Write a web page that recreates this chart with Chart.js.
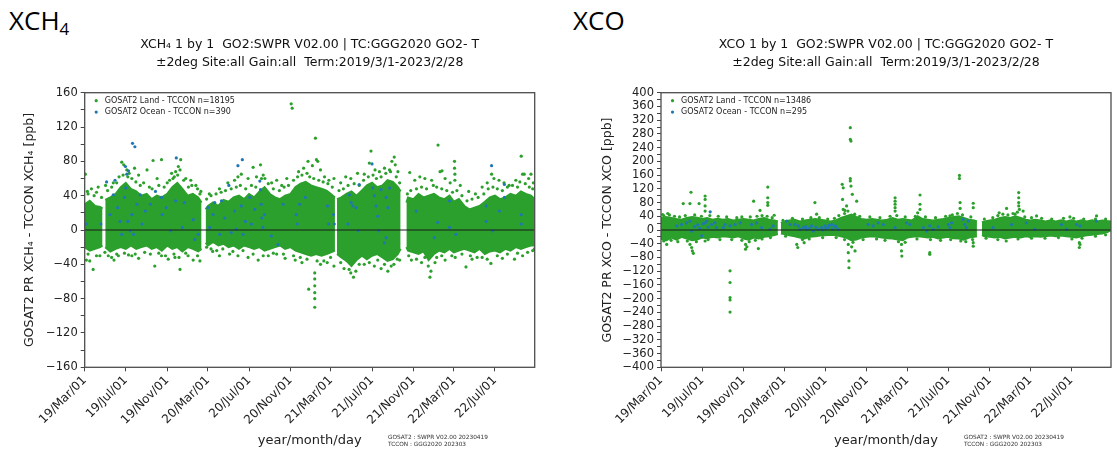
<!DOCTYPE html>
<html>
<head>
<meta charset="utf-8">
<script src="https://cdn.jsdelivr.net/npm/chart.js@4.4.1/dist/chart.umd.min.js"></script>
<style>
  body { margin: 0; background: #fff; width: 1117px; height: 454px; position: relative; overflow: hidden; font-family: 'DejaVu Sans', sans-serif; }
  .big { position: absolute; font-family: 'Open Sans', sans-serif; font-size: 26px; line-height: 26px; color: #000; white-space: nowrap; }
  .big sub { font-size: 17px; vertical-align: -5px; line-height: 0; }
  .note { position: absolute; font-size: 5.8px; line-height: 7px; color: #333; white-space: nowrap; }
  canvas { position: absolute; top: 0; }
</style>
</head>
<body>
<div class="big" style="left:9px;top:7px">XCH<sub>4</sub></div>
<div class="big" style="left:573px;top:7px">XCO</div>
<canvas id="ch4" width="558" height="454" style="left:0"></canvas>
<canvas id="co" width="559" height="454" style="left:558px"></canvas>
<div class="note" style="left:388px;top:434px">GOSAT2 : SWPR V02.00 20230419<br>TCCON : GGG2020 202303</div>
<div class="note" style="left:964px;top:434px">GOSAT2 : SWPR V02.00 20230419<br>TCCON : GGG2020 202303</div>
<script>
// x values are days since 2019-03-01
const tickDays = [0, 122, 245, 366, 488, 611, 731, 853, 976, 1096, 1218];
const tickLabels = ['19/Mar/01', '19/Jul/01', '19/Nov/01', '20/Mar/01', '20/Jul/01', '20/Nov/01',
                    '21/Mar/01', '21/Jul/01', '21/Nov/01', '22/Mar/01', '22/Jul/01'];
const lastDay = 1336;

// dense part of the land cloud: [day, upper edge, lower edge], null = no data
const ch4Band = [[0,30,-20],[15,34,-24],[31,28,-22],[46,27,-20],[53,25,-18],[57,null,null],[61,35,-20],[76,38,-25],
  [92,42,-22],[107,50,-20],[122,55,-22],[137,48,-18],[153,45,-22],[168,40,-20],[184,42,-18],[199,36,-22],
  [214,40,-20],[229,38,-24],[245,42,-18],[260,50,-22],[275,55,-20],[290,48,-25],[306,40,-20],[321,42,-22],
  [337,38,-25],[347,32,-22],[353,null,null],[359,24,-15],[366,28,-18],[381,32,-14],[397,28,-18],[412,35,-16],
  [427,33,-20],[442,38,-18],[458,40,-22],[473,36,-18],[488,42,-20],[503,38,-22],[519,45,-20],[534,50,-24],
  [550,42,-22],[565,38,-20],[580,36,-18],[595,40,-22],[611,42,-20],[626,50,-24],[641,54,-26],[656,56,-28],
  [672,52,-30],[687,50,-28],[703,48,-30],[718,46,-28],[731,42,-26],[743,38,-24],[746,null,null],[749,36,-28],
  [762,38,-32],[777,42,-36],[792,45,-42],[807,40,-35],[823,46,-30],[838,52,-34],[853,55,-30],[868,50,-28],
  [884,52,-32],[899,58,-36],[915,56,-34],[930,50,-28],[938,45,-22],[946,null,null],[955,32,-20],[960,38,-24],
  [976,36,-26],[991,42,-28],[1006,38,-25],[1021,40,-35],[1037,42,-28],[1052,38,-24],[1068,36,-26],[1083,40,-22],
  [1096,33,-26],[1111,36,-24],[1127,28,-22],[1142,24,-24],[1157,26,-26],[1172,28,-22],[1188,33,-28],[1203,38,-25],
  [1218,40,-24],[1233,36,-26],[1249,38,-22],[1264,42,-24],[1280,40,-20],[1295,45,-22],[1310,42,-20],[1325,40,-18],
  [1336,36,-18]];

// scattered land points outside the dense part: [day, value]
const ch4Land = [[2,65],[8,45],[20,48],[40,50],[62,52],[85,55],[110,79],[116,76],[125,70],[132,66],[148,72],
  [160,64],[185,70],[203,81],[215,60],[228,82],[245,55],[262,60],[270,68],[278,74],[283,70],[285,82],[300,60],
  [315,58],[330,52],[345,45],[370,42],[400,48],[425,55],[445,58],[455,62],[465,65],[485,60],[500,73],[510,62],
  [522,76],[535,60],[555,55],[570,58],[585,52],[600,60],[613,147],[616,142],[635,68],[650,72],[663,80],[676,75],
  [685,107],[688,82],[692,80],[700,70],[712,62],[725,58],[740,60],[760,55],[775,62],[790,60],[810,66],[830,65],
  [845,78],[850,92],[862,70],[875,68],[890,72],[905,70],[912,80],[919,85],[922,76],[930,68],[965,67],[980,58],
  [995,62],[1010,60],[1030,58],[1049,99],[1055,68],[1061,69],[1070,60],[1085,55],[1098,80],[1098,72],[1099,65],
  [1099,58],[1115,52],[1140,45],[1160,42],[1180,50],[1195,55],[1208,65],[1215,60],[1230,58],[1245,55],[1260,52],
  [1280,58],[1296,86],[1300,65],[1305,65],[1318,60],[1325,65],[1332,55],
  [5,-35],[15,-36],[25,-46],[45,-30],[70,-30],[87,-35],[100,-30],[140,-30],[160,-33],[208,-42],[228,-30],
  [248,-34],[268,-32],[283,-46],[307,-30],[322,-35],[342,-36],[380,-25],[400,-30],[430,-28],[455,-30],[485,-32],
  [515,-35],[545,-30],[570,-28],[595,-33],[625,-35],[645,-38],[665,-69],[683,-50],[683,-57],[683,-65],[683,-73],
  [683,-80],[683,-90],[700,-40],[720,-38],[740,-42],[770,-45],[790,-50],[798,-55],[805,-48],[830,-40],[860,-42],
  [880,-45],[900,-48],[918,-40],[935,-35],[970,-35],[1000,-38],[1025,-55],[1028,-48],[1040,-38],[1070,-35],
  [1100,-32],[1132,-43],[1150,-34],[1180,-32],[1206,-39],[1240,-33],[1276,-34],[1300,-30],[1335,-22]];

// land points sitting just outside the edges of the dense part
const ch4LandEdge = [[10,42],[28,40],[35,44],[50,38],[68,46],[80,50],[95,55],[102,62],[114,64],[128,62],[140,60],
  [152,56],[165,52],[175,55],[192,50],[200,48],[220,52],[236,50],[252,58],[258,66],[266,62],[276,64],[294,58],
  [308,50],[318,52],[335,48],[342,42],[362,36],[375,40],[390,42],[405,44],[418,46],[435,48],[450,50],[462,52],
  [478,48],[495,52],[508,50],[525,60],[530,64],[545,54],[560,48],[578,46],[592,50],[605,52],[620,58],[632,62],
  [645,64],[660,66],[668,62],[680,60],[695,58],[708,56],[722,54],[735,50],[755,46],[768,48],[782,52],[800,54],
  [815,52],[828,58],[842,62],[856,64],[866,60],[880,62],[894,66],[908,68],[925,62],[935,55],[958,42],[968,46],
  [985,48],[1000,50],[1015,48],[1035,52],[1045,50],[1060,48],[1075,46],[1092,44],[1105,46],[1120,40],[1135,34],
  [1150,36],[1168,38],[1185,42],[1198,48],[1212,50],[1225,48],[1240,46],[1255,50],[1270,52],[1285,50],[1292,56],
  [1308,54],[1320,50],[1330,48],
  [10,-28],[35,-30],[60,-26],[80,-32],[95,-28],[118,-27],[130,-29],[150,-28],[178,-26],[195,-28],[220,-27],
  [240,-30],[265,-28],[280,-32],[300,-27],[335,-30],[362,-20],[375,-22],[392,-24],[410,-22],[440,-25],[470,-24],
  [500,-28],[530,-30],[560,-27],[590,-28],[620,-30],[640,-32],[660,-34],[690,-36],[710,-36],[730,-32],[760,-38],
  [785,-46],[815,-40],[845,-38],[870,-35],[890,-40],[910,-42],[928,-34],[962,-30],[985,-34],[1010,-32],[1020,-42],
  [1045,-32],[1060,-30],[1090,-30],[1120,-28],[1145,-30],[1165,-32],[1195,-34],[1225,-30],[1255,-28],[1285,-27],
  [1315,-26],[1330,-24]];

const ch4Ocean = [[5,7],[48,7],[65,56],[90,58],[85,41],[75,18],[98,26],[105,10],[110,-5],[118,38],[122,49],
  [125,65],[130,69],[128,10],[135,-1],[140,18],[145,-5],[155,30],[165,41],[170,7],[180,22],[195,30],[210,45],
  [228,38],[230,18],[242,26],[255,-1],[270,34],[290,3],[296,32],[322,12],[327,-11],[337,-5],[142,101],[149,97],
  [121,74],[272,84],[468,82],[455,75],[366,26],[371,3],[381,18],[386,32],[401,-5],[406,34],[416,14],[428,52],
  [435,-3],[445,22],[450,1],[465,28],[470,-5],[477,10],[490,38],[495,7],[505,24],[520,57],[522,47],[524,30],
  [526,14],[529,3],[534,18],[554,-7],[574,-17],[589,30],[628,18],[631,7],[638,30],[655,38],[721,28],[739,18],
  [741,7],[724,7],[786,41],[791,32],[796,28],[806,26],[781,7],[812,-1],[815,53],[853,77],[855,49],[860,40],
  [865,28],[870,16],[873,-1],[880,47],[895,38],[900,26],[905,49],[895,-9],[890,-15],[984,22],[1048,9],[1038,-9],
  [1083,34],[1083,3],[1102,-5],[1192,28],[1192,10],[1231,22],[1208,75],[1246,53],[1246,38],[1296,18],[1296,7],
  [1211,-1]];

const coBand = [[0,35,-25],[15,38,-30],[31,35,-22],[46,32,-28],[61,30,-20],[76,35,-25],[92,38,-30],[107,36,-28],
  [122,32,-22],[137,35,-24],[153,30,-20],[168,33,-22],[184,30,-18],[199,32,-20],[214,28,-22],[229,30,-18],
  [245,32,-25],[260,30,-28],[275,28,-22],[290,32,-25],[306,35,-20],[321,30,-18],[337,28,-15],[347,25,-12],
  [352,null,null],[356,20,-10],[366,25,-12],[381,28,-15],[397,30,-18],[412,25,-22],[427,28,-25],[442,30,-20],
  [458,32,-18],[473,30,-16],[488,28,-15],[503,25,-14],[519,28,-15],[534,35,-18],[550,40,-22],[565,45,-30],
  [580,38,-28],[595,32,-22],[611,30,-20],[626,32,-18],[641,30,-20],[656,28,-22],[672,30,-24],[687,35,-25],
  [703,30,-28],[718,32,-30],[731,30,-22],[746,28,-20],[762,40,-18],[777,32,-20],[792,30,-22],[807,28,-20],
  [823,30,-25],[838,32,-22],[853,35,-20],[868,38,-24],[884,40,-25],[899,35,-28],[915,30,-22],[930,28,-20],
  [938,25,-18],[945,null,null],[953,22,-15],[960,25,-18],[976,28,-20],[991,30,-22],[1006,35,-20],[1021,38,-25],
  [1037,35,-22],[1052,40,-20],[1068,35,-22],[1083,30,-18],[1096,28,-20],[1111,30,-18],[1127,28,-20],[1142,25,-18],
  [1157,28,-16],[1172,25,-18],[1188,28,-16],[1203,25,-18],[1218,28,-20],[1233,25,-22],[1249,28,-18],[1264,25,-15],
  [1280,28,-14],[1295,25,-12],[1310,28,-10],[1325,26,-6],[1336,25,0]];

const coLand = [[5,45],[20,48],[66,77],[86,77],[89,110],[113,77],[131,99],[131,89],[131,70],[131,55],[275,84],
  [294,57],[317,125],[317,94],[317,80],[317,72],[336,43],[457,80],[462,46],[538,133],[541,123],[539,89],[541,60],
  [562,298],[562,264],[564,259],[562,150],[562,143],[564,128],[568,104],[581,84],[551,70],[546,57],[695,94],
  [695,84],[695,75],[695,65],[695,55],[769,102],[769,75],[769,60],[858,41],[886,159],[886,150],[888,80],[888,63],
  [927,78],[927,65],[1004,50],[1026,63],[1051,46],[1062,109],[1062,94],[1062,80],[1062,70],[1064,60],[1075,55],
  [1115,41],[1214,38],[1293,41],
  [17,-42],[86,-42],[91,-51],[93,-61],[96,-68],[205,-119],[205,-153],[205,-197],[205,-204],[205,-239],[251,-42],
  [251,-56],[255,-49],[289,-54],[131,-32],[403,-42],[406,-51],[425,-37],[556,-42],[556,-66],[558,-90],[558,-110],
  [566,-49],[576,-61],[714,-42],[714,-61],[715,-76],[798,-66],[798,-71],[927,-37],[927,-47],[1242,-37],[1242,-51],
  [1244,-42]];

const coLandEdge = [[8,42],[25,44],[40,40],[55,38],[72,42],[100,44],[120,40],[145,42],[170,40],[195,38],[225,36],
  [240,38],[265,38],[285,40],[300,42],[315,40],[330,36],[362,28],[390,34],[420,32],[445,36],[470,36],[495,32],
  [515,34],[528,42],[545,48],[555,55],[575,46],[590,40],[620,38],[650,36],[680,40],[700,42],[725,38],[755,40],
  [762,50],[785,38],[815,36],[845,40],[865,44],[880,48],[895,44],[920,38],[960,32],[985,36],[1000,42],[1015,46],
  [1030,44],[1045,48],[1058,52],[1080,38],[1100,36],[1130,34],[1160,32],[1195,34],[1225,34],[1255,32],[1290,32],
  [1320,32],
  [8,-32],[30,-30],[50,-34],[78,-32],[105,-34],[140,-28],[175,-28],[210,-28],[240,-30],[262,-34],[280,-30],
  [300,-26],[325,-22],[370,-18],[420,-28],[440,-26],[480,-22],[520,-22],[545,-28],[570,-36],[600,-28],[640,-26],
  [665,-30],[705,-34],[725,-36],[760,-26],[800,-28],[830,-30],[860,-28],[890,-32],[905,-34],[925,-28],[965,-24],
  [1000,-28],[1025,-32],[1060,-26],[1100,-24],[1140,-24],[1180,-22],[1220,-26],[1250,-24],[1290,-18],[1320,-14]];

const coOcean = [[47,12],[61,16],[76,21],[86,26],[91,-3],[100,10],[109,15],[115,5],[121,-17],[125,18],[131,21],
  [136,26],[140,8],[146,53],[150,16],[160,21],[165,7],[185,7],[190,16],[205,12],[220,16],[235,21],[269,16],
  [284,21],[299,7],[324,2],[333,12],[373,26],[383,16],[398,16],[408,12],[413,2],[423,7],[430,10],[432,2],[440,5],
  [447,12],[452,-3],[460,8],[467,2],[477,7],[480,0],[487,12],[490,5],[497,7],[500,14],[507,16],[510,3],[517,12],
  [520,9],[526,2],[615,16],[630,12],[645,21],[660,16],[695,7],[729,21],[739,16],[779,7],[789,-3],[798,12],
  [808,2],[823,9],[853,16],[858,7],[863,21],[897,31],[902,16],[907,7],[912,26],[986,7],[1041,16],[1085,21],
  [1110,2],[1189,16],[1204,2],[1234,16],[1244,12],[1293,26]];

const green = '#2ca02c';
const blue = '#1f77b4';

Chart.defaults.font.family = "'DejaVu Sans', sans-serif";
Chart.defaults.color = '#222';

function pts(arr) { return arr.map(p => ({ x: p[0], y: p[1] })); }
function edge(arr, k) { return arr.map(p => ({ x: p[0], y: p[k] })); }

// axes box, zero line and the legend inside the axes
const frame = {
  id: 'frame',
  afterDatasetsDraw(chart) {
    const { ctx, chartArea: a } = chart;
    const y0 = chart.scales.y.getPixelForValue(0);
    ctx.save();
    ctx.strokeStyle = '#1a1a1a';
    ctx.lineWidth = 1;
    ctx.beginPath();
    ctx.moveTo(a.left, y0);
    ctx.lineTo(a.right, y0);
    ctx.stroke();
    ctx.strokeStyle = '#4d4d4d';
    ctx.lineWidth = 1.3;
    ctx.strokeRect(a.left, a.top, a.right - a.left, a.bottom - a.top);
    ctx.font = "8px 'DejaVu Sans'";
    ctx.textBaseline = 'middle';
    chart.data.datasets.filter(d => d.inLegend).forEach((d, i) => {
      const cy = a.top + 8 + i * 11.4;
      ctx.fillStyle = d.backgroundColor;
      ctx.beginPath();
      ctx.arc(a.left + 11.5, cy, 1.6, 0, Math.PI * 2);
      ctx.fill();
      ctx.fillStyle = '#222';
      ctx.fillText(d.label, a.left + 20, cy);
    });
    ctx.restore();
  }
};

function makeChart(id, c) {
  return new Chart(document.getElementById(id), {
    type: 'scatter',
    data: {
      datasets: [
        { label: c.landLabel, data: pts(c.land), backgroundColor: green, pointRadius: 1.6, borderWidth: 0, order: 1, inLegend: true },
        { label: c.oceanLabel, data: pts(c.ocean), backgroundColor: blue, pointRadius: 1.6, borderWidth: 0, order: 0, inLegend: true },
        { type: 'line', label: 'land upper', data: edge(c.band, 1), borderColor: green, backgroundColor: green,
          borderWidth: 2, pointRadius: 0, fill: '+1', order: 2 },
        { type: 'line', label: 'land lower', data: edge(c.band, 2), borderColor: green, backgroundColor: green,
          borderWidth: 2, pointRadius: 0, fill: false, order: 3 }
      ]
    },
    options: {
      responsive: false,
      animation: false,
      events: [],
      layout: { padding: { left: 0, top: 0, right: c.padRight, bottom: 0 } },
      plugins: {
        legend: { display: false },
        tooltip: { enabled: false },
        title: {
          display: true, fullSize: false, text: c.title, color: '#111',
          font: { size: 12.5, weight: 'normal', lineHeight: 1.44 },
          padding: { top: 36, bottom: 20.7 }
        }
      },
      scales: {
        x: {
          type: 'linear', min: 0, max: lastDay,
          afterBuildTicks: s => { s.ticks = tickDays.map(v => ({ value: v })); },
          afterFit: s => { s.height = 86.7; },
          ticks: { autoSkip: false, maxRotation: 45, minRotation: 45, padding: 2, font: { size: 12 },
                   callback: (v, i) => tickLabels[i] },
          grid: { display: true, drawOnChartArea: false, drawTicks: true, tickLength: 4, color: '#444' },
          border: { display: false },
          title: { display: true, text: 'year/month/day', font: { size: 13 }, padding: { top: 0, bottom: 6 } }
        },
        y: {
          min: c.yMin, max: c.yMax,
          afterFit: s => { s.width = c.yWidth; },
          ticks: { stepSize: 20, autoSkip: false, padding: 3, font: { size: 11.5 },
                   callback: v => (v % 40 === 0 ? String(v).replace('-', '\u2212') : '') },
          grid: { display: true, drawOnChartArea: false, drawTicks: true, tickLength: 4, color: '#444' },
          border: { display: false },
          title: { display: true, text: c.yTitle, font: { size: 12.5 }, padding: { top: c.yTitlePad, bottom: 0 } }
        }
      }
    },
    plugins: [frame]
  });
}

makeChart('ch4', {
  title: ['XCH\u2084 1 by 1  GO2:SWPR V02.00 | TC:GGG2020 GO2- T', '\u00b12deg Site:all Gain:all  Term:2019/3/1-2023/2/28'],
  yTitle: 'GOSAT2 PR XCH\u2084 - TCCON XCH\u2084 [ppb]',
  landLabel: 'GOSAT2 Land - TCCON n=18195',
  oceanLabel: 'GOSAT2 Ocean - TCCON n=390',
  land: ch4Land.concat(ch4LandEdge), ocean: ch4Ocean, band: ch4Band,
  yMin: -160, yMax: 160, yWidth: 84.7, yTitlePad: 22.5, padRight: 23.3
});

makeChart('co', {
  title: ['XCO 1 by 1  GO2:SWPR V02.00 | TC:GGG2020 GO2- T', '\u00b12deg Site:all Gain:all  Term:2019/3/1-2023/2/28'],
  yTitle: 'GOSAT2 PR XCO - TCCON XCO [ppb]',
  landLabel: 'GOSAT2 Land - TCCON n=13486',
  oceanLabel: 'GOSAT2 Ocean - TCCON n=295',
  land: coLand.concat(coLandEdge), ocean: coOcean, band: coBand,
  yMin: -400, yMax: 400, yWidth: 103, yTitlePad: 42.5, padRight: 6
});
</script>
</body>
</html>
